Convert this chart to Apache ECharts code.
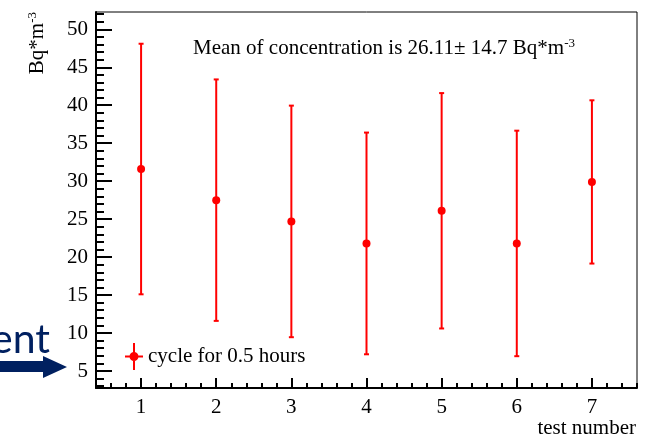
<!DOCTYPE html>
<html>
<head>
<meta charset="utf-8">
<script src="https://cdn.jsdelivr.net/npm/echarts@6/dist/echarts.min.js"></script>
<style>
html,body{margin:0;padding:0;background:#fff;}
#chart{width:653px;height:441px;}
</style>
</head>
<body>
<div id="chart"></div>
<script>
// ---- data ----
const testNumbers = [1, 2, 3, 4, 5, 6, 7];
const concentration = [31.6, 27.5, 24.7, 21.8, 26.1, 21.8, 29.9];
const concentrationErr = [16.5, 15.9, 15.25, 14.6, 15.5, 14.85, 10.75];
const seriesName = 'cycle for 0.5 hours';
const xTickLabels = [1, 2, 3, 4, 5, 6, 7];
const yTickLabels = [5, 10, 15, 20, 25, 30, 35, 40, 45, 50];
const xRange = [0.4, 7.6];
const yRange = [2.76, 52.28];

const xMinorTicks = [];
for (let i = 2; i <= 38; i++) xMinorTicks.push(+(i * 0.2).toFixed(1));
const yMinorTicks = [];
for (let v = 3; v <= 52; v++) yMinorTicks.push(v);

const pointData = testNumbers.map((x, i) => [x, concentration[i]]);
const errData = testNumbers.map((x, i) => [x, concentration[i] - concentrationErr[i], concentration[i] + concentrationErr[i]]);

const SERIF = 'Liberation Serif';
const chart = echarts.init(document.getElementById('chart'), null, {renderer: 'canvas'});

const option = {
  animation: false,
  backgroundColor: '#ffffff',
  grid: {left: 96, right: 16, top: 12, bottom: 53, show: true, borderColor: '#000', borderWidth: 1, backgroundColor: 'transparent'},
  legend: {
    left: 125, top: 343, padding: 0,
    data: [{name: seriesName, icon: 'path://M0,12.5h18v2h-18z M8,0h2v27h-2z M4.5,13.5a4.5,4.5 0 1,1 9,0a4.5,4.5 0 1,1 -9,0z'}],
    itemWidth: 18, itemHeight: 27, itemGap: 5,
    itemStyle: {color: '#ff0000', opacity: 1},
    textStyle: {fontFamily: SERIF, fontSize: 21, color: '#000'}
  },
  xAxis: [
    {
      type: 'value', min: xRange[0], max: xRange[1], gridIndex: 0, position: 'bottom',
      splitLine: {show: false},
      axisLine: {show: true, lineStyle: {color: '#000', width: 2}},
      axisTick: {show: true, inside: true, length: 10, customValues: xTickLabels, lineStyle: {color: '#000', width: 2}},
      axisLabel: {show: true, customValues: xTickLabels, fontFamily: SERIF, fontSize: 21, color: '#000', margin: 9}
    },
    {
      type: 'value', min: xRange[0], max: xRange[1], gridIndex: 0, position: 'bottom',
      splitLine: {show: false},
      axisLine: {show: false},
      axisTick: {show: true, inside: true, length: 5, customValues: xMinorTicks, lineStyle: {color: '#000', width: 2}},
      axisLabel: {show: false}
    }
  ],
  yAxis: [
    {
      type: 'value', min: yRange[0], max: yRange[1], gridIndex: 0, position: 'left',
      splitLine: {show: false},
      axisLine: {show: true, lineStyle: {color: '#000', width: 2}},
      axisTick: {show: true, inside: true, length: 16, customValues: yTickLabels, lineStyle: {color: '#000', width: 2}},
      axisLabel: {show: true, customValues: yTickLabels, fontFamily: SERIF, fontSize: 21, color: '#000', margin: 8}
    },
    {
      type: 'value', min: yRange[0], max: yRange[1], gridIndex: 0, position: 'left',
      splitLine: {show: false},
      axisLine: {show: false},
      axisTick: {show: true, inside: true, length: 8, customValues: yMinorTicks, lineStyle: {color: '#000', width: 2}},
      axisLabel: {show: false}
    }
  ],
  series: [
    {
      type: 'custom', name: 'err', xAxisIndex: 0, yAxisIndex: 0,
      data: errData,
      renderItem: function (params, api) {
        const x = api.value(0);
        const lo = api.coord([x, api.value(1)]);
        const hi = api.coord([x, api.value(2)]);
        const st = {stroke: '#ff0000', lineWidth: 2};
        return {
          type: 'group',
          children: [
            {type: 'line', shape: {x1: lo[0], y1: lo[1], x2: hi[0], y2: hi[1]}, style: st},
            {type: 'line', shape: {x1: lo[0] - 2.5, y1: lo[1], x2: lo[0] + 2.5, y2: lo[1]}, style: st},
            {type: 'line', shape: {x1: hi[0] - 2.5, y1: hi[1], x2: hi[0] + 2.5, y2: hi[1]}, style: st}
          ]
        };
      },
      silent: true, z: 2
    },
    {
      type: 'scatter', name: seriesName, xAxisIndex: 0, yAxisIndex: 0,
      data: pointData, symbol: 'circle', symbolSize: 8,
      itemStyle: {color: '#ff0000', opacity: 1}, z: 3
    }
  ],
  graphic: [
    {
      type: 'text', x: 37, y: 12, rotation: Math.PI / 2,
      style: {
        text: '{a|Bq*m}{s|-3}', align: 'right', verticalAlign: 'middle',
        rich: {a: {fontFamily: SERIF, fontSize: 21, fill: '#000'}, s: {fontFamily: SERIF, fontSize: 13, fill: '#000', verticalAlign: 'top'}}
      }
    },
    {
      type: 'text', x: 193, y: 48,
      style: {
        text: '{a|Mean of concentration is 26.11± 14.7 Bq*m}{s|-3}', align: 'left', verticalAlign: 'middle',
        rich: {a: {fontFamily: SERIF, fontSize: 21, fill: '#000'}, s: {fontFamily: SERIF, fontSize: 13, fill: '#000', verticalAlign: 'top'}}
      }
    },
    {
      type: 'text', x: 636, y: 428,
      style: {text: 'test number', fontFamily: SERIF, fontSize: 21, fill: '#000', align: 'right', verticalAlign: 'middle'}
    },
    {
      type: 'text', x: 50, y: 340,
      style: {text: 'ent', fontFamily: 'Lato', fontSize: 41, fill: '#002060', align: 'right', verticalAlign: 'middle'}
    },
    {
      type: 'polygon',
      shape: {points: [[0, 361], [43, 361], [43, 356], [67, 367], [43, 378], [43, 372], [0, 372]]},
      style: {fill: '#002060'}
    }
  ]
};
chart.setOption(option);
</script>
</body>
</html>
